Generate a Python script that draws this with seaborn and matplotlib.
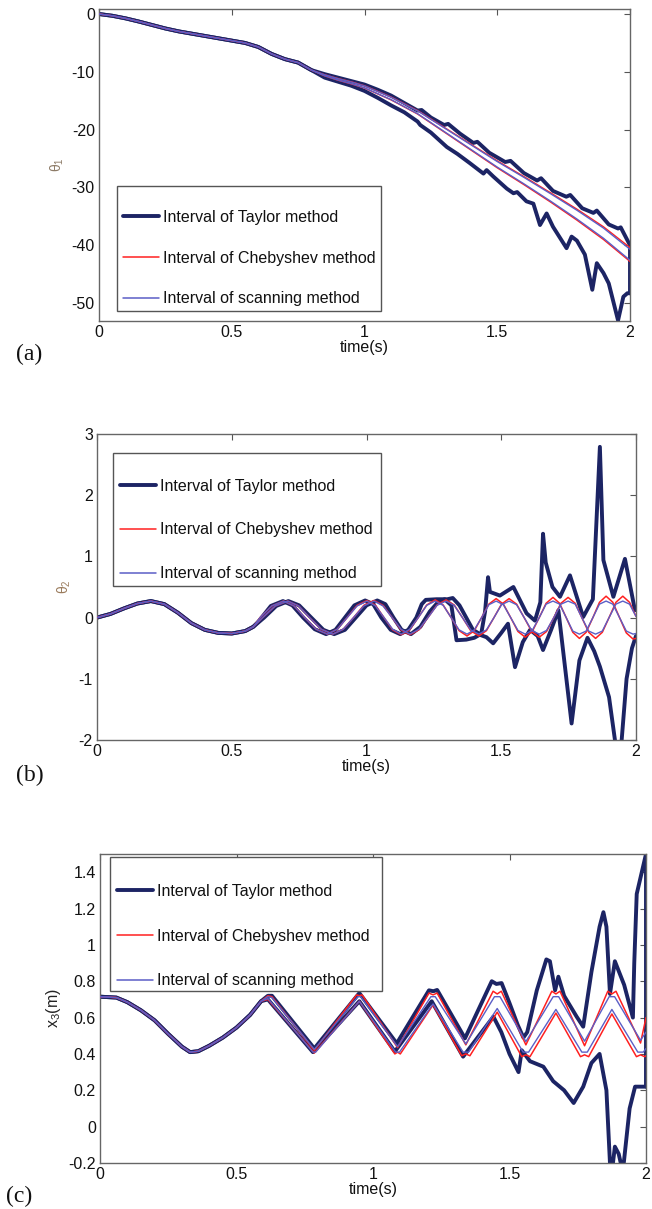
import numpy as np
import pandas as pd
import matplotlib
matplotlib.use("Agg")
import matplotlib.pyplot as plt
import matplotlib.patches as mpatches
import seaborn as sns
from matplotlib.lines import Line2D

sns.set_theme(style="white")
plt.rcParams['font.family'] = ['Liberation Sans', 'DejaVu Sans']
plt.rcParams['mathtext.fontset'] = 'custom'
plt.rcParams['mathtext.rm'] = 'Liberation Sans'
plt.rcParams['mathtext.it'] = 'Liberation Sans'

# ---------------- data : panel (a) theta_1 ----------------
a_t_early = [0.0, 0.05, 0.10, 0.15, 0.20, 0.25, 0.30, 0.35, 0.40, 0.45, 0.50, 0.55, 0.60, 0.65, 0.70, 0.75, 0.80]
a_v_early = [0.0, -0.3, -0.75, -1.3, -1.9, -2.5, -3.0, -3.4, -3.8, -4.2, -4.6, -5.0, -5.7, -6.9, -7.8, -8.4, -9.7]

a_t_in = [0.85, 0.9, 0.95, 1.0, 1.1, 1.2, 1.3, 1.4, 1.5, 1.6, 1.7, 1.8, 1.9, 2.0]
a_cheb_hi = [-10.5, -11.15, -11.72, -12.4, -14.35, -16.7, -19.6, -22.5, -25.4, -28.1, -30.9, -33.75, -36.8, -40.4]
a_cheb_lo = [-10.7, -11.45, -12.08, -12.8, -14.85, -17.3, -20.4, -23.5, -26.6, -29.5, -32.5, -35.65, -39.0, -42.8]
a_scan_hi = [-10.52, -11.18, -11.76, -12.44, -14.4, -16.76, -19.68, -22.6, -25.52, -28.24, -31.06, -33.94, -37.02, -40.7]
a_scan_lo = [-10.68, -11.42, -12.04, -12.76, -14.8, -17.24, -20.32, -23.4, -26.48, -29.36, -32.34, -35.46, -38.78, -42.6]

a_tay_hi_t = [0.85, 0.9, 0.95, 1.0, 1.05, 1.1, 1.15, 1.2, 1.215, 1.25, 1.3, 1.315, 1.36, 1.41, 1.425, 1.47, 1.53,
              1.55, 1.6, 1.65, 1.665, 1.71, 1.76, 1.775, 1.82, 1.862, 1.875, 1.92, 1.955, 1.965, 2.0, 2.0]
a_tay_hi_v = [-10.4, -11.0, -11.6, -12.2, -13.1, -14.1, -15.4, -16.7, -16.6, -17.9, -19.2, -19.0, -20.7, -22.3, -22.1,
              -24.0, -25.6, -25.4, -27.5, -28.8, -28.4, -30.6, -31.6, -31.3, -33.6, -34.4, -34.0, -36.4, -37.1, -36.9,
              -40.0, -48.3]
a_tay_lo_t = [0.85, 0.9, 0.95, 1.0, 1.05, 1.1, 1.15, 1.2, 1.21, 1.25, 1.31, 1.35, 1.397, 1.448, 1.46, 1.485, 1.536,
              1.561, 1.575, 1.61, 1.636, 1.661, 1.686, 1.71, 1.761, 1.78, 1.8, 1.83, 1.858, 1.875, 1.9, 1.92,
              1.955, 1.975, 1.99, 2.0]
a_tay_lo_v = [-11.0, -11.7, -12.4, -13.3, -14.5, -15.8, -17.0, -18.6, -19.2, -20.5, -23.0, -24.2, -25.8, -27.6,
              -27.0, -28.1, -30.2, -31.0, -30.8, -32.4, -32.8, -36.5, -34.5, -36.8, -40.5, -38.5, -39.2, -41.6,
              -47.7, -43.1, -44.8, -46.6, -53.0, -48.9, -48.3, -48.3]

# ---------------- data : panel (b) theta_2 ----------------
b_t_early = [0.0, 0.05, 0.10, 0.15, 0.20, 0.25, 0.30, 0.35, 0.40, 0.45, 0.50, 0.55, 0.58]
b_v_early = [0.0, 0.06, 0.15, 0.23, 0.27, 0.22, 0.08, -0.09, -0.20, -0.25, -0.26, -0.22, -0.15]

b_lead_t = [0.605, 0.6485, 0.692, 0.7315, 0.771, 0.813, 0.855, 0.8915, 0.928, 0.965, 1.002, 1.0335, 1.065, 1.097,
            1.129, 1.1605, 1.192, 1.2235, 1.255, 1.2845, 1.314, 1.3435, 1.373, 1.4, 1.427, 1.454, 1.481, 1.508,
            1.535, 1.562, 1.589, 1.615, 1.641, 1.6665, 1.692, 1.7165, 1.741, 1.7655, 1.79, 1.815, 1.84, 1.8645,
            1.889, 1.914, 1.939, 1.964, 1.989, 2.0]
b_lag_t = [0.615, 0.6615, 0.708, 0.7485, 0.789, 0.832, 0.875, 0.9135, 0.952, 0.990, 1.028, 1.0615, 1.095, 1.128,
           1.161, 1.1945, 1.228, 1.2615, 1.295, 1.3255, 1.356, 1.3865, 1.417, 1.445, 1.473, 1.501, 1.529, 1.557,
           1.585, 1.613, 1.641, 1.668, 1.695, 1.7215, 1.748, 1.7745, 1.799, 1.8245, 1.85, 1.875, 1.9, 1.9255,
           1.951, 1.976, 2.0]
b_cheb_lead = [0.0, 0.19, 0.27, 0.19, 0.0, -0.19, -0.27, -0.19, 0.0, 0.2, 0.28, 0.2, 0.0, -0.2, -0.28, -0.2, 0.0,
               0.206, 0.29, 0.206, 0.0, -0.213, -0.30, -0.213, 0.0, 0.22, 0.31, 0.22, 0.0, -0.227, -0.32, -0.227,
               0.0, 0.234, 0.33, 0.234, 0.0, -0.24, -0.34, -0.24, 0.0, 0.25, 0.35, 0.25, 0.0, -0.25, -0.35, -0.34]
b_cheb_lag = [0.0, 0.19, 0.27, 0.19, 0.0, -0.19, -0.27, -0.19, 0.0, 0.2, 0.28, 0.2, 0.0, -0.2, -0.28, -0.2, 0.0,
              0.206, 0.29, 0.206, 0.0, -0.213, -0.30, -0.213, 0.0, 0.22, 0.31, 0.22, 0.0, -0.227, -0.32, -0.227,
              0.0, 0.234, 0.33, 0.234, 0.0, -0.24, -0.34, -0.24, 0.0, 0.25, 0.35, 0.25, 0.02]
b_scan_lead = [0.0, 0.19, 0.27, 0.19, 0.0, -0.19, -0.27, -0.19, 0.0, 0.19, 0.27, 0.19, 0.0, -0.19, -0.27, -0.19, 0.0,
               0.2, 0.27, 0.2, 0.0, -0.2, -0.27, -0.2, 0.0, 0.21, 0.27, 0.21, 0.0, -0.21, -0.27, -0.21, 0.0, 0.22,
               0.27, 0.22, 0.0, -0.22, -0.27, -0.22, 0.0, 0.22, 0.27, 0.22, 0.0, -0.22, -0.27, -0.26]
b_scan_lag = [0.0, 0.19, 0.27, 0.19, 0.0, -0.19, -0.27, -0.19, 0.0, 0.19, 0.27, 0.19, 0.0, -0.19, -0.27, -0.19, 0.0,
              0.2, 0.27, 0.2, 0.0, -0.2, -0.27, -0.2, 0.0, 0.21, 0.27, 0.21, 0.0, -0.21, -0.27, -0.21, 0.0, 0.22,
              0.27, 0.22, 0.0, -0.22, -0.27, -0.22, 0.0, 0.22, 0.27, 0.22, 0.02]

b_tay1_t = [0.60, 0.645, 0.69, 0.725, 0.765, 0.808, 0.85, 0.885, 0.92, 0.955, 0.995, 1.025, 1.055, 1.09, 1.125, 1.155,
            1.185, 1.205, 1.22, 1.26, 1.30, 1.32, 1.345, 1.37, 1.395, 1.425, 1.44, 1.451, 1.458, 1.495, 1.545, 1.594,
            1.625, 1.645, 1.655, 1.665, 1.69, 1.718, 1.755, 1.804, 1.84, 1.866, 1.879, 1.916, 1.959, 1.996]
b_tay1_v = [-0.06, 0.19, 0.27, 0.2, 0.0, -0.19, -0.27, -0.2, 0.0, 0.2, 0.28, 0.22, 0.0, -0.2, -0.27, -0.2, 0.0, 0.22,
            0.29, 0.3, 0.3, 0.32, 0.2, 0.0, -0.2, -0.28, 0.1, 0.66, 0.42, 0.36, 0.5, 0.07, -0.05, 0.25, 1.37, 0.9,
            0.5, 0.34, 0.69, 0.01, 0.3, 2.79, 0.94, 0.34, 0.96, 0.12]
b_tay2_t = [0.62, 0.665, 0.71, 0.75, 0.795, 0.84, 0.88, 0.92, 0.96, 1.0, 1.04, 1.07, 1.10, 1.13, 1.165, 1.20, 1.235,
            1.265, 1.29, 1.315, 1.334, 1.37, 1.40, 1.42, 1.445, 1.47, 1.50, 1.525, 1.551, 1.58, 1.607, 1.635, 1.655,
            1.685, 1.712, 1.761, 1.79, 1.82, 1.845, 1.866, 1.90, 1.925, 1.945, 1.965, 1.985, 2.0]
b_tay2_v = [0.0, 0.19, 0.27, 0.2, 0.0, -0.2, -0.27, -0.2, 0.0, 0.2, 0.28, 0.22, 0.0, -0.2, -0.27, -0.15, 0.1, 0.25,
            0.3, 0.2, -0.37, -0.36, -0.33, -0.28, -0.32, -0.42, -0.25, -0.1, -0.81, -0.4, -0.2, -0.3, -0.53, -0.2,
            0.12, -1.73, -0.7, -0.33, -0.55, -0.8, -1.3, -2.1, -2.1, -1.0, -0.5, -0.3]

# ---------------- data : panel (c) x_3 ----------------
c_t_early = [0.0, 0.06, 0.10, 0.15, 0.20, 0.25, 0.30, 0.33, 0.36, 0.40, 0.45, 0.50, 0.55, 0.59]
c_v_early = [0.715, 0.71, 0.685, 0.64, 0.585, 0.51, 0.44, 0.41, 0.415, 0.445, 0.49, 0.545, 0.615, 0.69]

c_scan_hi_t = [0.615, 0.63, 0.785, 0.945, 0.955, 1.09, 1.212, 1.228, 1.34, 1.445, 1.465, 1.56, 1.66, 1.68, 1.775,
               1.865, 1.885, 1.98, 2.0]
c_scan_hi_v = [0.715, 0.71, 0.425, 0.715, 0.715, 0.44, 0.715, 0.715, 0.455, 0.715, 0.715, 0.468, 0.715, 0.715, 0.47,
               0.715, 0.715, 0.475, 0.52]
c_scan_lo_t = [0.615, 0.78, 0.79, 0.95, 1.083, 1.097, 1.22, 1.33, 1.35, 1.455, 1.55, 1.57, 1.67, 1.765, 1.785,
               1.875, 1.97, 1.99, 2.0]
c_scan_lo_v = [0.705, 0.41, 0.41, 0.69, 0.41, 0.41, 0.675, 0.41, 0.41, 0.65, 0.41, 0.41, 0.645, 0.41, 0.41, 0.645,
               0.41, 0.41, 0.43]
c_cheb_hi_t = [0.615, 0.63, 0.785, 0.94, 0.95, 0.96, 1.09, 1.205, 1.22, 1.235, 1.34, 1.44, 1.455, 1.47, 1.56, 1.655,
               1.67, 1.685, 1.775, 1.86, 1.875, 1.89, 1.98, 2.0]
c_cheb_hi_v = [0.72, 0.715, 0.42, 0.725, 0.72, 0.725, 0.435, 0.735, 0.725, 0.735, 0.45, 0.745, 0.73, 0.745, 0.45,
               0.745, 0.73, 0.745, 0.445, 0.745, 0.73, 0.745, 0.46, 0.6]
c_cheb_lo_t = [0.615, 0.785, 0.95, 1.08, 1.09, 1.10, 1.22, 1.325, 1.34, 1.355, 1.455, 1.545, 1.56, 1.575, 1.67,
               1.76, 1.775, 1.79, 1.875, 1.965, 1.98, 1.995, 2.0]
c_cheb_lo_v = [0.70, 0.405, 0.69, 0.40, 0.41, 0.40, 0.67, 0.39, 0.40, 0.39, 0.63, 0.385, 0.395, 0.385, 0.625, 0.385,
               0.395, 0.385, 0.62, 0.385, 0.395, 0.385, 0.39]

c_tay_hi_t = [0.615, 0.63, 0.785, 0.95, 1.087, 1.205, 1.221, 1.235, 1.337, 1.435, 1.452, 1.471, 1.50, 1.53, 1.551,
              1.565, 1.60, 1.635, 1.648, 1.667, 1.679, 1.70, 1.746, 1.77, 1.80, 1.83, 1.844, 1.855, 1.868, 1.886,
              1.92, 1.952, 1.957, 1.966, 2.0, 2.0]
c_tay_hi_v = [0.72, 0.72, 0.43, 0.735, 0.458, 0.75, 0.745, 0.752, 0.486, 0.80, 0.785, 0.79, 0.68, 0.56, 0.49,
              0.52, 0.75, 0.92, 0.91, 0.75, 0.825, 0.72, 0.605, 0.55, 0.85, 1.10, 1.18, 1.10, 0.73, 0.91, 0.78,
              0.60, 0.9, 1.28, 1.5, 0.22]
c_tay_lo_t = [0.615, 0.78, 0.95, 1.08, 1.215, 1.33, 1.441, 1.47, 1.50, 1.533, 1.545, 1.575, 1.624, 1.66, 1.70,
              1.735, 1.77, 1.80, 1.83, 1.855, 1.868, 1.875, 1.886, 1.90, 1.915, 1.94, 1.96, 2.0]
c_tay_lo_v = [0.70, 0.41, 0.69, 0.413, 0.69, 0.385, 0.605, 0.52, 0.40, 0.30, 0.42, 0.36, 0.33, 0.25, 0.20,
              0.13, 0.22, 0.35, 0.40, 0.2, -0.2, -0.25, -0.11, -0.15, -0.25, 0.1, 0.22, 0.22]

NAVY = '#1c2464'
RED = '#ff2020'
BLUE = '#5b5ec6'
LBL = ['Interval of Taylor method', 'Interval of Chebyshev method', 'Interval of scanning method']

W, H = 652, 1209
fig = plt.figure(figsize=(W / 100, H / 100), dpi=100)


def px_axes(l, t, r, b):
    return fig.add_axes([l / W, 1 - b / H, (r - l) / W, (b - t) / H])


def draw(ax, t, v, color, lw, z):
    sns.lineplot(x=t, y=v, ax=ax, color=color, linewidth=lw, sort=False, estimator=None,
                 legend=False, zorder=z, solid_joinstyle='round', solid_capstyle='round')


def style(ax, ylim, yticks, yticklabels, ylabel, ycolor, ysize):
    ax.set_xlim(0, 2)
    ax.set_ylim(*ylim)
    ax.set_xticks([0, 0.5, 1, 1.5, 2])
    ax.set_xticklabels(['0', '0.5', '1', '1.5', '2'])
    ax.set_yticks(yticks)
    ax.set_yticklabels(yticklabels)
    ax.tick_params(direction='in', length=4, width=0.8, color='#555555', top=True, right=True,
                   labelsize=11.5, labelcolor='#111111', pad=3)
    for s in ax.spines.values():
        s.set_color('#666666')
        s.set_linewidth(1.0)
    ax.set_xlabel('time(s)', fontsize=11.5, labelpad=0, color='#111111')
    ax.set_ylabel(ylabel, fontsize=ysize, color=ycolor, labelpad=4)
    ax.grid(False)
    ax.set_facecolor('white')


def legend(ax, box, handle_x, mid_y, spacing):
    x0, y0, x1, y1 = box
    rect = mpatches.Rectangle((x0 / W, 1 - y1 / H), (x1 - x0) / W, (y1 - y0) / H, transform=fig.transFigure,
                              facecolor='white', edgecolor='#555555', linewidth=1.0, zorder=5, clip_on=False)
    ax.add_patch(rect)
    handles = [Line2D([], [], color=NAVY, lw=2.8), Line2D([], [], color=RED, lw=1.1),
               Line2D([], [], color=BLUE, lw=1.1)]
    lg = ax.legend(handles, LBL, loc='center left', bbox_to_anchor=(handle_x / W, 1 - mid_y / H),
                   bbox_transform=fig.transFigure, borderaxespad=0, borderpad=0, fontsize=11.5, frameon=False,
                   handlelength=2.25, handletextpad=0.25, labelspacing=spacing)
    lg.set_zorder(6)
    for txt in lg.get_texts():
        txt.set_color('#111111')


# ---------------- panel (a) ----------------
axA = px_axes(99, 9, 630, 321)
draw(axA, a_t_early + a_tay_hi_t, a_v_early + a_tay_hi_v, NAVY, 2.8, 2)
draw(axA, a_t_early + a_tay_lo_t, a_v_early + a_tay_lo_v, NAVY, 2.8, 2)
draw(axA, a_t_early + a_t_in, a_v_early + a_cheb_hi, RED, 1.0, 3)
draw(axA, a_t_early + a_t_in, a_v_early + a_cheb_lo, RED, 1.0, 3)
draw(axA, a_t_early + a_t_in, a_v_early + a_scan_hi, BLUE, 1.0, 4)
draw(axA, a_t_early + a_t_in, a_v_early + a_scan_lo, BLUE, 1.0, 4)
style(axA, (-53.1, 0.87), [-50, -40, -30, -20, -10, 0], ['-50', '-40', '-30', '-20', '-10', '0'],
      r'$\theta_1$', '#8c7a66', 10)
legend(axA, (117, 186, 381, 311), 123, 258, 1.62)

# ---------------- panel (b) ----------------
axB = px_axes(97, 434, 636, 740)
draw(axB, b_t_early + b_tay1_t, b_v_early + b_tay1_v, NAVY, 2.8, 2)
draw(axB, b_t_early + b_tay2_t, b_v_early + b_tay2_v, NAVY, 2.8, 2)
draw(axB, b_t_early + b_lead_t, b_v_early + b_cheb_lead, RED, 1.1, 3)
draw(axB, b_t_early + b_lag_t, b_v_early + b_cheb_lag, RED, 1.1, 3)
draw(axB, b_t_early + b_lead_t, b_v_early + b_scan_lead, BLUE, 1.0, 4)
draw(axB, b_t_early + b_lag_t, b_v_early + b_scan_lag, BLUE, 1.0, 4)
style(axB, (-2, 3), [-2, -1, 0, 1, 2, 3], ['-2', '-1', '0', '1', '2', '3'],
      r'$\theta_2$', '#9a7b5c', 10)
legend(axB, (113, 453, 381, 586), 120, 530, 1.8)

# ---------------- panel (c) ----------------
axC = px_axes(100, 854, 646, 1163)
draw(axC, c_t_early + c_tay_hi_t, c_v_early + c_tay_hi_v, NAVY, 2.8, 2)
draw(axC, c_t_early + c_tay_lo_t, c_v_early + c_tay_lo_v, NAVY, 2.8, 2)
draw(axC, c_t_early + c_cheb_hi_t, c_v_early + c_cheb_hi_v, RED, 1.1, 3)
draw(axC, c_t_early + c_cheb_lo_t, c_v_early + c_cheb_lo_v, RED, 1.1, 3)
draw(axC, c_t_early + c_scan_hi_t, c_v_early + c_scan_hi_v, BLUE, 1.0, 4)
draw(axC, c_t_early + c_scan_lo_t, c_v_early + c_scan_lo_v, BLUE, 1.0, 4)
style(axC, (-0.2, 1.5), [-0.2, 0, 0.2, 0.4, 0.6, 0.8, 1.0, 1.2, 1.4],
      ['-0.2', '0', '0.2', '0.4', '0.6', '0.8', '1', '1.2', '1.4'], r'x$_3$(m)', '#222222', 11.5)
legend(axC, (110, 857, 382, 991), 117, 936, 1.87)

for lab, (x, y) in {'(a)': (29, 354), '(b)': (30, 775), '(c)': (19, 1196)}.items():
    fig.text(x / W, 1 - y / H, lab, family=['Liberation Serif', 'DejaVu Serif'], fontsize=17,
             ha='center', va='center', color='#111111')

fig.savefig('out.png', dpi=100, facecolor='white')
